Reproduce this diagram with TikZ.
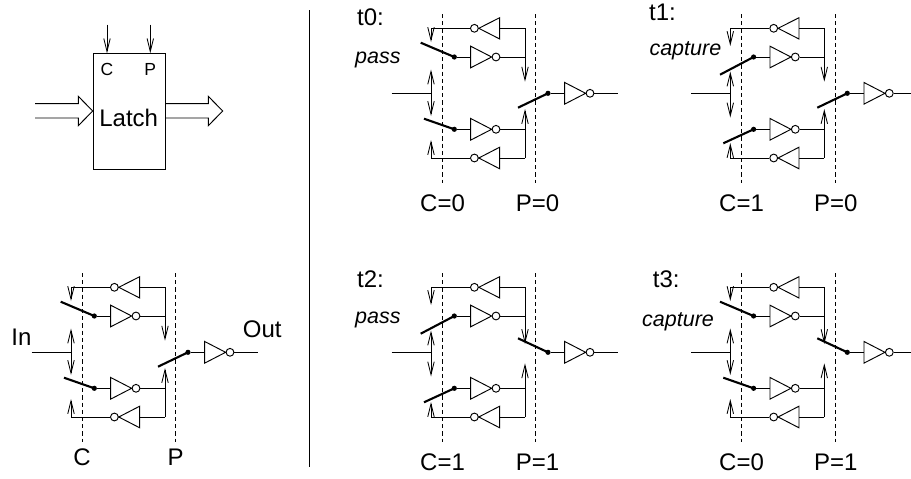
\documentclass[tikz,border=0pt]{standalone}
\usepackage{fontspec}
\setmainfont{Liberation Sans}
\usetikzlibrary{arrows.meta}
\tikzset{
  wire/.style={line width=0.95pt,line join=miter},
  varrow/.style={wire,-{Straight Barb[length=13pt,width=6.4pt,line width=0.85pt]}},
  swbar/.style={line width=2.1pt},
  ctl/.style={line width=0.95pt,dash pattern=on 4.2pt off 3pt},
  bubble/.style={circle,draw,line width=0.95pt,fill=white,minimum size=7.8pt,inner sep=0pt},
  contact/.style={circle,fill=black,minimum size=5.2pt,inner sep=0pt},
  tag/.style={anchor=base west,inner sep=0pt,font=\fontsize{24}{24}\selectfont},
  tagc/.style={anchor=base,inner sep=0pt,font=\fontsize{24}{24}\selectfont},
  mode/.style={anchor=base west,inner sep=0pt,font=\fontsize{21.5}{24}\selectfont\itshape},
  small/.style={anchor=base,inner sep=0pt,font=\fontsize{17.5}{20}\selectfont},
}
% #1 prefix, #2 dx, #3 dy, #4 C state, #5 P state
\newcommand{\latchcircuit}[5]{%
\begin{scope}[shift={(#2,#3)}]
  \ifnum#4=0
    \coordinate (#1us) at (60.7,301.7); \coordinate (#1ls) at (64,377.7);
    \coordinate (#1ua) at (71,301); \coordinate (#1la) at (71,399);
    \coordinate (#1ia) at (71,328.5); \coordinate (#1ib) at (71,375);
  \else
    \coordinate (#1us) at (60.7,333.7); \coordinate (#1ls) at (64,402.3);
    \coordinate (#1ua) at (71,305); \coordinate (#1la) at (71,402);
    \coordinate (#1ia) at (71,330.5); \coordinate (#1ib) at (71,376.5);
  \fi
  \ifnum#5=0
    \coordinate (#1os) at (158,366.7);
    \coordinate (#1da) at (165,340.7); \coordinate (#1ra) at (165,368);
  \else
    \coordinate (#1os) at (158,338.3);
    \coordinate (#1da) at (165,344); \coordinate (#1ra) at (165,363.3);
  \fi
  % clock lines
  \coordinate (#1ct) at (82,273); \coordinate (#1cb) at (82,442);
  \coordinate (#1pt) at (175.7,273); \coordinate (#1pb) at (175.7,442);
  \draw[ctl] (#1ct) -- (#1cb);
  \draw[ctl] (#1pt) -- (#1pb);
  % inverters
  \node[bubble] (#1b1) at (114.4,287.3) {};
  \node[bubble] (#1b2) at (136,316) {};
  \node[bubble] (#1b3) at (136,388.3) {};
  \node[bubble] (#1b4) at (114.4,417) {};
  \node[bubble] (#1b5) at (230,352.3) {};
  \draw[wire] (139.7,276.7) -- (139.7,298) -- (#1b1.east) -- cycle;
  \draw[wire] (110.7,305.2) -- (110.7,326.8) -- (#1b2.west) -- cycle;
  \draw[wire] (110.7,377.5) -- (110.7,399.1) -- (#1b3.west) -- cycle;
  \draw[wire] (139.7,406.2) -- (139.7,427.8) -- (#1b4.east) -- cycle;
  \draw[wire] (204.7,341.5) -- (204.7,363.1) -- (#1b5.west) -- cycle;
  % junctions and contacts
  \coordinate (#1tl) at (71,287.3); \coordinate (#1tr) at (165,287.3);
  \coordinate (#1ur) at (165,316);  \coordinate (#1lr) at (165,388.3);
  \coordinate (#1bl) at (71,417);   \coordinate (#1br) at (165,417);
  \coordinate (#1in) at (31.7,352.3); \coordinate (#1ij) at (71,352.3);
  \coordinate (#1out) at (258.3,352.3);
  \node[contact] (#1d1) at (94.3,316) {};
  \node[contact] (#1d2) at (94.3,388.3) {};
  \node[contact] (#1d3) at (188,352.3) {};
  % wires
  \draw[wire] (#1b1.west) -- (#1tl);
  \draw[varrow] (#1tl) -- (#1ua);
  \draw[wire] (139.7,287.3) -- (#1tr);
  \draw[varrow] (#1tr) -- (#1da);
  \draw[wire] (#1b2.east) -- (#1ur);
  \draw[wire] (#1d1) -- (110.7,316);
  \draw[wire] (#1d2) -- (110.7,388.3);
  \draw[wire] (#1b3.east) -- (#1lr);
  \draw[wire] (139.7,417) -- (#1br);
  \draw[varrow] (#1br) -- (#1ra);
  \draw[wire] (#1b4.west) -- (#1bl);
  \draw[varrow] (#1bl) -- (#1la);
  \draw[wire] (#1in) -- (#1ij);
  \draw[varrow] (#1ij) -- (#1ia);
  \draw[varrow] (#1ij) -- (#1ib);
  \draw[wire] (#1d3) -- (204.7,352.3);
  \draw[wire] (#1b5.east) -- (#1out);
  % switches
  \draw[swbar] (#1us) -- (#1d1.center);
  \draw[swbar] (#1ls) -- (#1d2.center);
  \draw[swbar] (#1os) -- (#1d3.center);
\end{scope}}
\begin{document}
\begin{tikzpicture}[x=1pt,y=-1pt]
\useasboundingbox (0,0) rectangle (911,479);
% Block symbol
\node[draw,line width=0.95pt,minimum width=72.3pt,minimum height=115.4pt,inner sep=0pt,anchor=north west] (box) at (92.7,53.3) {};
\node[anchor=base,inner sep=0pt,font=\fontsize{24}{24}\selectfont] (lt) at (128.7,126) {Latch};
\node[small] (lc) at (107,75.5) {C};
\node[small] (lp) at (150.3,75.5) {P};
\coordinate (cs) at (107,24.7); \coordinate (ce) at (107,53.3);
\coordinate (ps) at (150.3,24.7); \coordinate (pe) at (150.3,53.3);
\draw[varrow] (cs) -- (ce);
\draw[varrow] (ps) -- (pe);
\draw[wire] (35,103.7) -- (78.3,103.7) -- (78.3,96.3) -- (92.7,111) -- (78.3,125.7) -- (78.3,118) -- (35,118);
\draw[wire] (165,103.7) -- (208.3,103.7) -- (208.3,96.3) -- (222.7,111) -- (208.3,125.7) -- (208.3,118) -- (165,118);
% Separator
\coordinate (sept) at (309,10); \coordinate (sepb) at (309,467);
\draw[wire] (sept) -- (sepb);
% Circuits
\latchcircuit{m}{0}{0}{0}{0}
\latchcircuit{a}{360}{-259}{0}{0}
\latchcircuit{b}{659.3}{-259}{1}{0}
\latchcircuit{c}{360}{0}{1}{1}
\latchcircuit{d}{659.3}{0}{0}{1}
% Labels
\node[tag] (tin) at (11.3,345) {In};
\node[tag] (tout) at (242.7,337.7) {Out};
\node[tagc] (tc) at (82,465) {C};
\node[tagc] (tp) at (175.7,465) {P};
\node[tag] (t0) at (357,25) {t0:};
\node[tag] (t1) at (649,20.7) {t1:};
\node[tag] (t2) at (357,287.7) {t2:};
\node[tag] (t3) at (652.7,287.7) {t3:};
\node[mode] (m0) at (355,63.3) {pass};
\node[mode] (m1) at (649.3,55) {capture};
\node[mode] (m2) at (355,323.3) {pass};
\node[mode] (m3) at (642,326.7) {capture};
\node[tag] (c0) at (420,211.7) {C=0};
\node[tag] (p0) at (515.7,211.7) {P=0};
\node[tag] (c1) at (719,211.7) {C=1};
\node[tag] (p1) at (814,211.7) {P=0};
\node[tag] (c2) at (420,470) {C=1};
\node[tag] (p2) at (515.7,470) {P=1};
\node[tag] (c3) at (719,470) {C=0};
\node[tag] (p3) at (814,470) {P=1};
\end{tikzpicture}
\end{document}
